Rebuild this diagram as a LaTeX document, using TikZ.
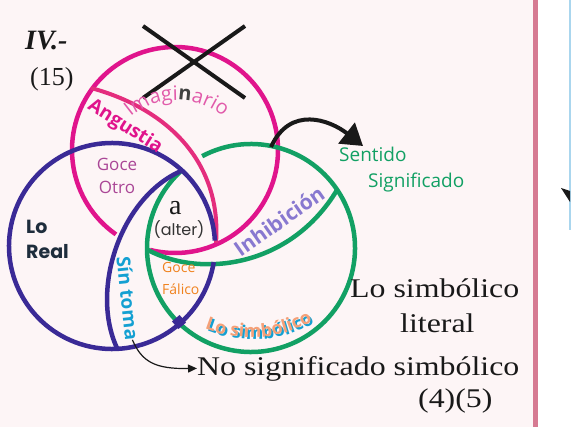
\documentclass[tikz,border=0pt]{standalone}
\usepackage{fontspec}
\usepackage{graphicx}
\setmainfont{Liberation Serif}
\newfontfamily\comicfont{Open Sans}
\newfontfamily\gothicfont{Poppins}
\usetikzlibrary{arrows.meta,decorations.text}

\definecolor{fondo}{RGB}{253,245,246}
\definecolor{barra}{RGB}{214,122,146}
\definecolor{celeste}{RGB}{170,214,238}
\definecolor{imag}{RGB}{224,20,140}
\definecolor{angus}{RGB}{228,45,125}
\definecolor{real}{RGB}{58,42,150}
\definecolor{simb}{RGB}{18,160,100}
\definecolor{gotro}{RGB}{170,70,150}
\definecolor{gfal}{RGB}{240,130,30}
\definecolor{inhib}{RGB}{136,120,208}
\definecolor{sint}{RGB}{20,160,210}
\definecolor{loreal}{RGB}{30,45,60}
\definecolor{imagtx}{RGB}{225,90,170}
\definecolor{simbtx}{RGB}{245,160,120}

\newcommand\fsz[2]{\fontsize{#1}{#2}\selectfont}

\tikzset{
  anillo/.style={line width=4.5pt},
  cruz/.style={line width=4pt,black!90},
  flecha/.style={line width=4pt,black!90,-{Triangle[length=21pt,width=26pt]}},
  flechita/.style={line width=1.2pt,black!90,-{Triangle[length=9pt,width=8pt]}},
  serif/.style={inner sep=0pt,anchor=base west,font=\fsz{27}{32},text=black!90},
  comic/.style={inner sep=0pt,font=\comicfont},
  negrita/.style={comic,font=\comicfont\bfseries\fsz{19}{20}}
}

\begin{document}
\begin{tikzpicture}[x=1pt,y=-1pt]
\useasboundingbox (0,0) rectangle (572,427);
% fondo y borde de la lamina
\fill[fondo] (0,0) rectangle (533,427);
\fill[barra] (533,0) rectangle (538,427);
\fill[white] (538,0) rectangle (572,427);
\draw[celeste,line width=2pt] (570,0) -- (570,230);
\fill[black!90] (561,188) -- (570,191) -- (570,202) -- cycle;

% centros de los anillos
\coordinate (cI) at (175,150);
\coordinate (cR) at (112,246);
\coordinate (cS) at (251,248);

% anillos
\draw[anillo,imag] (cI) ++(125:103) arc[start angle=125,end angle=464,radius=103];
\draw[anillo,angus,line width=4pt] (91,88) .. controls (165,108) and (222,160) .. (216,243);
\draw[anillo,simb] (cS) ++(242:104) arc[start angle=242,end angle=588,radius=104];
\draw[anillo,simb] (148,250) .. controls (200,278) and (290,268) .. (337,190);
\draw[anillo,real] (cR) ++(9:103) arc[start angle=9,end angle=357,radius=103];
\draw[anillo,real] (181,171) .. controls (120,198) and (90,290) .. (117,348);
\node[fill=real,minimum size=10pt,inner sep=0pt,rotate=40] (rombo) at (179,322) {};

% tachado
\draw[cruz] (143,26) -- (245,98);
\draw[cruz] (245,26) -- (143,98);

% textos en los anillos
\path[decorate,decoration={text along path,text align=center,
  text={|\comicfont\fsz{20}{22}\color{imagtx}|Imagi|\comicfont\bfseries\fsz{20}{22}\color{black!75}|n|\comicfont\fsz{20}{22}\color{imagtx}|ario}}]
  (177,172) ++(-142:72) arc[start angle=-142,end angle=-38,radius=72];
\node[negrita,text=imag,rotate=-32] (angustia) at (125,127) {Angustia};
\node[negrita,text=inhib,font=\comicfont\bfseries\fsz{21}{22},rotate=35] (inhibicion) at (279,221) {Inhibición};
\node[negrita,text=sint,rotate=-84] (sintoma) at (128,298) {Sín toma};
\path[decorate,decoration={text along path,text align=center,
  text={|\comicfont\bfseries\fsz{18}{20}\color{sint}|Lo simbólico}}]
  (203,329) .. controls (240,345) and (282,343) .. (318,321);
\path[decorate,decoration={text along path,text align=center,
  text={|\comicfont\bfseries\fsz{18}{20}\color{simbtx}|Lo simbólico}}]
  (201,327) .. controls (238,343) and (280,341) .. (316,319);

\node[comic,text=gotro,font=\comicfont\fsz{17}{23},align=center] (goceotro) at (117,176) {Goce\\Otro};
\node[comic,text=gfal,font=\comicfont\fsz{14}{22},align=left,anchor=north west] (gocefalico) at (162,262) {Goce\\Fálico};
\node[inner sep=0pt,font=\gothicfont\bfseries\fsz{19}{25},text=loreal,align=left,anchor=north west] (loreal) at (26,220) {Lo\\Real};
\node[serif,font=\fsz{28}{30}] (a) at (169,215) {a};
\node[inner sep=0pt,font=\gothicfont\fsz{16}{20},text=black!80,anchor=base] (alter) at (179,236) {(alter)};

% textos de la derecha
\node[serif,font=\bfseries\itshape\fsz{28}{32}] (titulo) at (25,50) {IV.-};
\node[serif,font=\fsz{26}{30}] (quince) at (30,86) {(15)};
\node[comic,text=simb,font=\comicfont\fsz{19}{22},anchor=base west] (sentido) at (339,162) {Sentido};
\node[comic,text=simb,font=\comicfont\fsz{19}{22},anchor=base west] (significado) at (368,188) {Significado};
\node[serif] (losimbolico) at (350,298) {\scalebox{1.18}[1]{Lo simbólico}};
\node[serif] (literal) at (400,332) {\scalebox{1.18}[1]{literal}};
\node[serif] (nosig) at (197,375) {\scalebox{1.18}[1]{No significado simbólico}};
\node[serif] (cuatro) at (418,407) {\scalebox{1.18}[1]{(4)(5)}};

% flechas
\coordinate (cruce) at (271,147);
\coordinate (punta) at (363,146);
\draw[flecha] (cruce) .. controls (290,105) and (330,120) .. (punta);
\draw[flechita] (sintoma.east) .. controls (142,362) and (155,369) .. (nosig.west);
\end{tikzpicture}
\end{document}
